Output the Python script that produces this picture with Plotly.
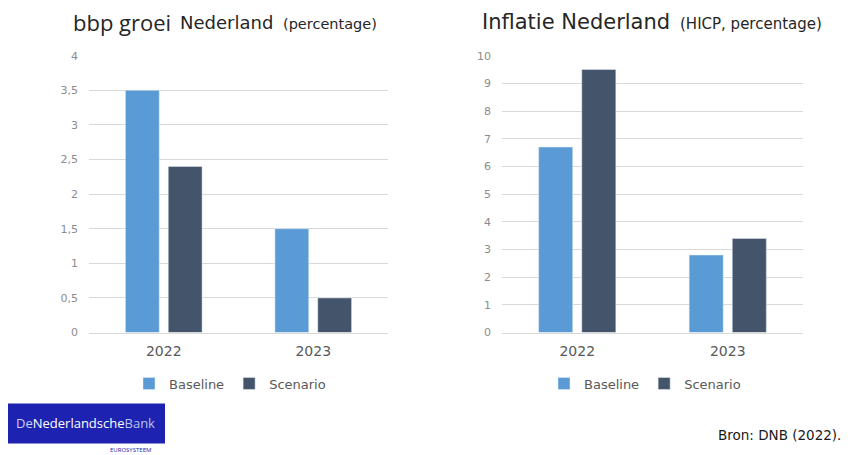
import plotly.graph_objects as go

years = ["2022", "2023"]
gdp_baseline = [3.5, 1.5]
gdp_scenario = [2.4, 0.5]
infl_baseline = [6.7, 2.8]
infl_scenario = [9.5, 3.4]
gdp_ticks = [0, 0.5, 1, 1.5, 2, 2.5, 3, 3.5, 4]
gdp_ticktext = ["0", "0,5", "1", "1,5", "2", "2,5", "3", "3,5", "4"]
infl_ticks = list(range(0, 11))

OFF = 8  # page body margin
W, H = 850, 455
C_BASE = "#5B9BD5"
C_SCEN = "#44546A"
GRID = "#D9D9D9"
TICKC = "#8C8C8C"
FONT = "DejaVu Sans"

def px(x):
    return (x - OFF) / W

def py(y):
    y = (y - 5.5) / 0.972  # empirical correction of the page photograph
    return 1 - (y - OFF) / H

fig = go.Figure()
fig.add_trace(go.Bar(x=years, y=gdp_baseline, name="Baseline", marker_color=C_BASE,
                     xaxis="x", yaxis="y", legend="legend"))
fig.add_trace(go.Bar(x=years, y=gdp_scenario, name="Scenario", marker_color=C_SCEN,
                     xaxis="x", yaxis="y", legend="legend"))
fig.add_trace(go.Bar(x=years, y=infl_baseline, name="Baseline", marker_color=C_BASE,
                     xaxis="x2", yaxis="y2", legend="legend2"))
fig.add_trace(go.Bar(x=years, y=infl_scenario, name="Scenario", marker_color=C_SCEN,
                     xaxis="x2", yaxis="y2", legend="legend2"))

xcommon = dict(showgrid=False, showline=True, linecolor=GRID, linewidth=1,
               tickfont=dict(family=FONT, size=14, color="#595959"), ticks="",
               ticklabelstandoff=6, fixedrange=True)
ycommon = dict(showgrid=True, gridcolor=GRID, gridwidth=1, zeroline=False,
               showline=False, tickfont=dict(family=FONT, size=11, color=TICKC),
               ticklabelstandoff=10, fixedrange=True)

legend_common = dict(orientation="h", xanchor="center", yanchor="middle",
                     font=dict(family=FONT, size=13, color="#595959"),
                     bgcolor="rgba(0,0,0,0)", itemwidth=30, traceorder="normal")

fig.update_layout(
    width=W, height=H,
    margin=dict(l=0, r=0, t=0, b=0),
    paper_bgcolor="white", plot_bgcolor="white",
    barmode="group", bargap=0.427, bargroupgap=0.21,
    xaxis=dict(domain=[px(89), px(388)], anchor="y", **xcommon),
    yaxis=dict(domain=[py(332), py(55)], anchor="x", range=[0, 4],
               tickvals=gdp_ticks, ticktext=gdp_ticktext, **ycommon),
    xaxis2=dict(domain=[px(502), px(803)], anchor="y2", **xcommon),
    yaxis2=dict(domain=[py(332), py(55)], anchor="x2", range=[0, 10],
                tickvals=infl_ticks, **ycommon),
    legend=dict(x=px(230), y=py(383), **legend_common),
    legend2=dict(x=px(645), y=py(383), **legend_common),
    showlegend=True,
)

TITLE_C = "#262626"
annotations = [
    dict(x=px(71), y=py(21), xanchor="left", yanchor="middle", text="bbp groei",
         font=dict(family="Open Sans", size=22, color=TITLE_C)),
    dict(x=px(178), y=py(22), xanchor="left", yanchor="middle", text="Nederland",
         font=dict(family=FONT, size=18, color=TITLE_C)),
    dict(x=px(281), y=py(23), xanchor="left", yanchor="middle", text="(percentage)",
         font=dict(family=FONT, size=14.5, color=TITLE_C)),
    dict(x=px(480), y=py(21), xanchor="left", yanchor="middle", text="Inflatie Nederland",
         font=dict(family=FONT, size=21, color=TITLE_C)),
    dict(x=px(678), y=py(23), xanchor="left", yanchor="middle", text="(HICP, percentage)",
         font=dict(family=FONT, size=15, color=TITLE_C)),
    dict(x=px(843), y=py(435), xanchor="right", yanchor="middle",
         text="Bron: DNB (2022).",
         font=dict(family=FONT, size=13.5, color="#1a1a1a")),
    dict(x=px(85), y=py(423), xanchor="center", yanchor="middle",
         text="<span style='color:#C8D0F5'>De</span>"
              "<span style='color:#FFFFFF'>Nederlandsche</span>"
              "<span style='color:#B8C4F0'>Bank</span>",
         font=dict(family="Open Sans", size=13)),
    dict(x=px(130), y=py(450), xanchor="center", yanchor="middle",
         text="EUROSYSTEEM",
         font=dict(family="Open Sans", size=6, color="#1E22B0")),
]
for a in annotations:
    a.update(xref="paper", yref="paper", showarrow=False)
fig.update_layout(annotations=annotations)

fig.add_shape(type="rect", xref="paper", yref="paper",
              x0=px(5), x1=px(165), y0=py(443), y1=py(403),
              fillcolor="#1E22B0", line=dict(width=0), layer="below")

fig.write_html("out.html")
